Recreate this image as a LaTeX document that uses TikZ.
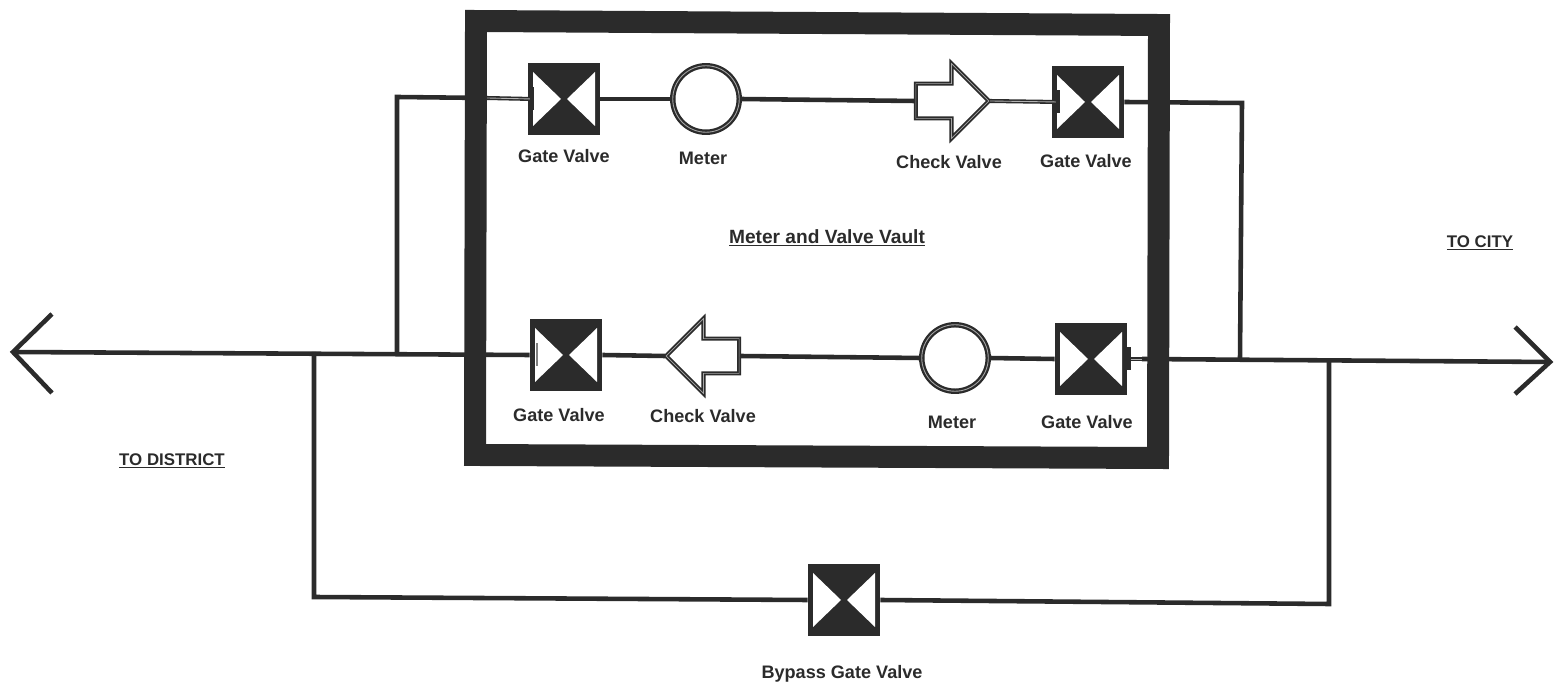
\documentclass[tikz,border=0pt]{standalone}
\usepackage{fontspec}
\setmainfont{Liberation Sans}
\usetikzlibrary{shapes.arrows}
\definecolor{ink}{HTML}{2B2B2B}
\tikzset{
	pipe/.style={draw=ink, line width=2.6pt, line join=miter},
	stem/.style={draw=ink, line width=.9pt, double=gray!60, double distance=.5pt},
	gatevalve/.style={shape=rectangle, fill=ink, minimum size=1.44cm, inner sep=0pt,
		path picture={
			\fill[white] (-31,-27) -- (-3,0) -- (-31,27) -- cycle;
			\fill[white] (31,-27) -- (3,0) -- (31,27) -- cycle;
		}},
	stembar/.style={shape=rectangle, fill=ink, inner sep=0pt, minimum width=.07cm, minimum height=.46cm},
	meter/.style={shape=circle, fill=white, draw=ink, line width=1.3pt, double=gray!70, double distance=.5pt, minimum size=1.33cm, inner sep=0pt},
	checkvalve/.style={shape=single arrow, fill=white, draw=ink, line width=1pt, double=gray!70, double distance=.4pt,
		inner sep=0pt, inner ysep=.33cm, minimum height=1.46cm, minimum width=1.46cm, single arrow head extend=.4cm},
	label/.style={font=\bfseries\fontsize{10.3}{12}\selectfont, text=ink, inner sep=0pt},
	title/.style={font=\bfseries\fontsize{9.6}{12}\selectfont, text=ink, inner sep=0pt}
}
\begin{document}
\begin{tikzpicture}[x=0.02cm, y=-0.02cm]
	
	\path[use as bounding box] (0,0) rectangle (1562,688);
	
	\coordinate (tipL) at (13, 352);
	\coordinate (barbLa) at (52, 314);
	\coordinate (barbLb) at (52, 393);
	\coordinate (tipR) at (1550, 362);
	\coordinate (barbRa) at (1515, 327);
	\coordinate (barbRb) at (1515, 394);
	\coordinate (teeA) at (314, 352);
	\coordinate (teeB) at (397, 352);
	\coordinate (teeC) at (1240, 358);
	\coordinate (teeD) at (1329, 361);
	\coordinate (cornerA) at (397, 97);
	\coordinate (cornerB) at (1242, 103);
	\coordinate (cornerC) at (314, 597);
	\coordinate (cornerD) at (1329, 604);
	\coordinate (stemA) at (487, 98);
	\coordinate (stemB) at (1142, 359);
	
	\node[gatevalve] (gateTL) at (564, 99) {};
	\node[gatevalve] (gateTR) at (1088, 102) {};
	\node[gatevalve] (gateBL) at (566, 355) {};
	\node[gatevalve] (gateBR) at (1091, 359) {};
	\node[gatevalve] (gateBy) at (844, 600) {};
	\node[stembar] (barTL) at (532, 99) {};
	\node[stembar] (barTR) at (1058, 102) {};
	\node[stembar, fill=white!40!ink, minimum width=.03cm] (barBL) at (537, 355) {};
	\node[stembar] (barBR) at (1129, 359) {};
	\node[meter] (meterT) at (706, 99) {};
	\node[meter] (meterB) at (955, 358) {};
	\node[checkvalve, anchor=tail] (checkT) at (915, 101) {};
	\node[checkvalve, anchor=tail, shape border rotate=180] (checkB) at (740, 356) {};
	
	\path[pipe] (tipL) edge (gateBL.west);
	\path[pipe] (teeB) -- (cornerA) -- (stemA);
	\path[pipe] (gateTL.east) edge (meterT.west);
	\path[pipe] (meterT.east) edge (checkT.tail);
	\path[pipe] (gateTR.east) -- (cornerB) -- (teeC);
	\path[pipe] (gateBL.east) edge (checkB.tip);
	\path[pipe] (checkB.tail) edge (meterB.west);
	\path[pipe] (meterB.east) edge (gateBR.west);
	\path[pipe] (stemB) edge (tipR);
	\path[pipe] (teeA) -- (cornerC) -- (gateBy.west);
	\path[pipe] (gateBy.east) -- (cornerD) -- (teeD);
	\path[pipe] (barbLa) -- (tipL) -- (barbLb);
	\path[pipe] (barbRa) -- (tipR) -- (barbRb);
	\draw[stem] (stemA) -- (barTL);
	\draw[stem] (checkT.tip) -- (barTR);
	\draw[stem] (barBR) -- (stemB);
	
	\draw[ink, line width=12.5pt, line join=miter] (476, 21) -- (1159, 25) -- (1158, 458) -- (475, 455) -- cycle;
	
	\node[label] (lblGateTL) at (564, 156) {Gate Valve};
	\node[label] (lblMeterT) at (703, 158) {Meter};
	\node[label] (lblCheckT) at (949, 162) {Check Valve};
	\node[label] (lblGateTR) at (1086, 161) {Gate Valve};
	\node[label, font=\bfseries\fontsize{10.9}{12}\selectfont] (lblVault) at (827, 238) {\underline{Meter and Valve Vault}};
	\node[label] (lblGateBL) at (559, 415) {Gate Valve};
	\node[label] (lblCheckB) at (703, 416) {Check Valve};
	\node[label] (lblMeterB) at (952, 422) {Meter};
	\node[label] (lblGateBR) at (1087, 422) {Gate Valve};
	\node[label] (lblBypass) at (842, 674) {Bypass Gate Valve};
	\node[title] (lblCity) at (1480, 243) {\underline{TO CITY}};
	\node[title] (lblDistrict) at (172, 461) {\underline{TO DISTRICT}};
	
\end{tikzpicture}
\end{document}
